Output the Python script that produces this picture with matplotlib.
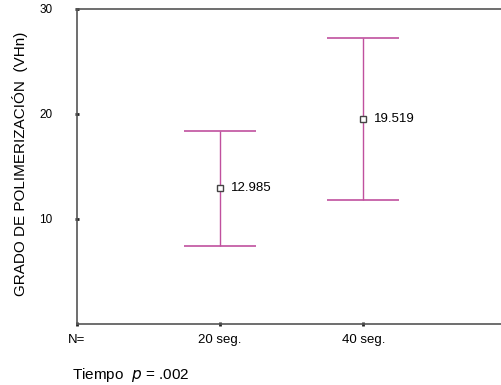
import matplotlib
matplotlib.use("Agg")
import matplotlib.pyplot as plt

categories = ["20 seg.", "40 seg."]
means = [12.985, 19.519]
upper = [18.4, 27.2]
lower = [7.4, 11.8]
mean_labels = ["12.985", "19.519"]
yticks = [10, 20, 30]

plt.rcParams['font.family'] = ['Liberation Sans', 'DejaVu Sans']

fig = plt.figure(figsize=(5.02, 3.85), dpi=100)
ax = fig.add_axes([77/502, 1-324/385, 1-77/502, (324-9)/385])

col = '#c0509e'
xs = [1, 2]
for x, m, u, l, lab in zip(xs, means, upper, lower, mean_labels):
    ax.vlines(x, l, u, color=col, lw=1.0)
    ax.hlines([l, u], x-0.25, x+0.25, color=col, lw=1.2)
    ax.plot([x], [m], marker='s', ms=5, mfc='white', mec='#444444', mew=1.0, ls='none', zorder=3)
    ax.annotate(lab, (x, m), xytext=(8, 0), textcoords='offset points',
                va='center', ha='left', fontsize=9.5)

ax.set_xlim(0, 2.97)
ax.set_ylim(0, 30)
ax.set_yticks(yticks)
ax.set_yticklabels([str(t) for t in yticks], fontsize=8.5)
ax.set_xticks([0] + xs)
ax.set_xticklabels(["N="] + categories, fontsize=9.5)
ax.tick_params(axis='y', length=3, width=2, direction='inout', pad=16, color='#222222')
ax.tick_params(axis='x', length=3, width=2, direction='inout', pad=6, color='#222222')
for s in ['left', 'bottom', 'top']:
    ax.spines[s].set_color('#555555')
    ax.spines[s].set_linewidth(1.2)
ax.spines['right'].set_visible(False)

fig.text(20/502, 1-164/385, "GRADO DE POLIMERIZACIÓN  (VHn)", rotation=90,
         ha='center', va='center', fontsize=11)
fig.text(72/502, 1-375/385, "Tiempo  $p$ = .002", ha='left', va='center', fontsize=11)

fig.savefig("out.png", dpi=100)
